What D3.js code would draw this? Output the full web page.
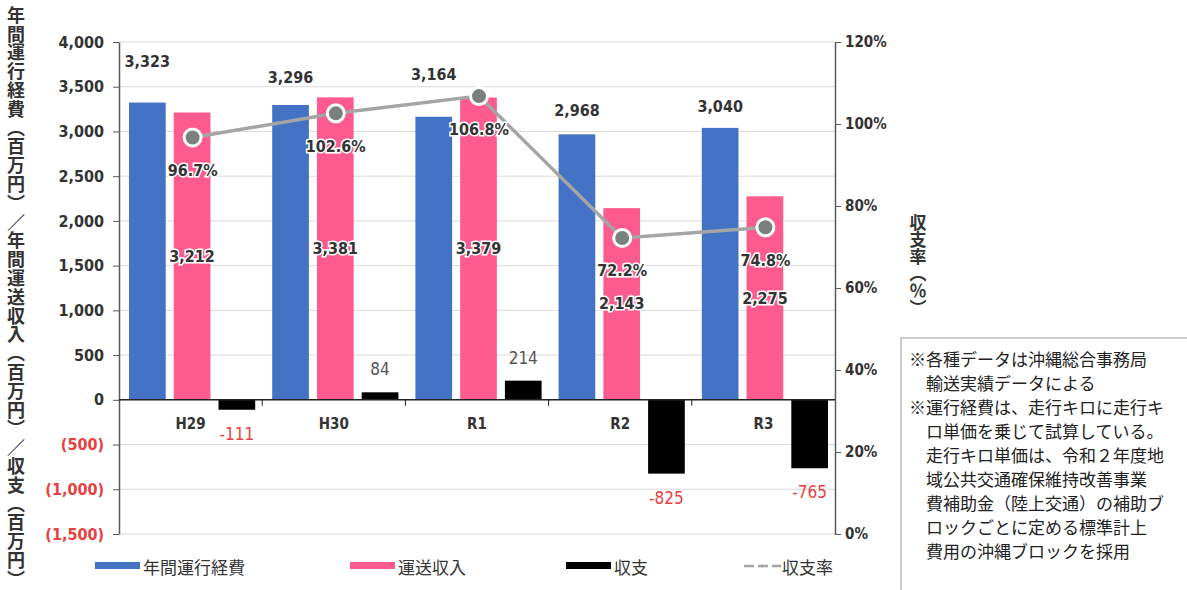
<!DOCTYPE html>
<html>
<head>
<meta charset="utf-8">
<script src="https://cdn.jsdelivr.net/npm/d3@7"></script>
<style>
  body { margin: 0; background: #fff; }
  svg { display: block; }
  .num { font-family: "Liberation Sans Narrow", "DejaVu Sans Condensed", "Roboto", sans-serif; font-weight: bold; }
  .jp { font-family: "Noto Sans CJK JP", "Noto Sans", sans-serif; }
</style>
</head>
<body>
<svg id="chart" width="1187" height="590"></svg>
<script>
const years = ['H29', 'H30', 'R1', 'R2', 'R3'];
const costs = [3323, 3296, 3164, 2968, 3040];      // 年間運行経費
const revenues = [3212, 3381, 3379, 2143, 2275];   // 運送収入
const balances = [-111, 84, 214, -825, -765];      // 収支
const ratios = [96.7, 102.6, 106.8, 72.2, 74.8];   // 収支率 (%)
const leftTicks = [-1500, -1000, -500, 0, 500, 1000, 1500, 2000, 2500, 3000, 3500, 4000];
const rightTicks = [0, 20, 40, 60, 80, 100, 120];
const notes = [
    '※各種データは沖縄総合事務局',
    '　輸送実績データによる',
    '※運行経費は、走行キロに走行キ',
    '　ロ単価を乗じて試算している。',
    '　走行キロ単価は、令和２年度地',
    '　域公共交通確保維持改善事業',
    '　費補助金（陸上交通）の補助ブ',
    '　ロックごとに定める標準計上',
    '　費用の沖縄ブロックを採用'
];

// the cost labels sit at uneven heights in the original (px above bar)
const costLabelLift = [41, 27, 42, 24, 21];

const colors = { cost: '#4472c4', revenue: '#fd5b8e', balance: '#000000', ratio: '#a5a5a5' };

const svg = d3.select('#chart');
const plotLeft = 119, plotRight = 835, plotTop = 42, plotBottom = 534;

const yL = d3.scaleLinear().domain([-1500, 4000]).range([plotBottom, plotTop]);
const yR = d3.scaleLinear().domain([0, 120]).range([plotBottom, plotTop]);
const x0 = d3.scaleBand().domain(years).range([plotLeft, plotRight]);
const x1 = d3.scaleBand().domain(['cost', 'revenue', 'balance'])
    .range([10, x0.bandwidth() - 7]).paddingInner(0.18);

const fmt = d3.format(',');

// gridlines
svg.append('g').selectAll('line')
    .data(leftTicks)
    .enter().append('line')
    .attr('x1', plotLeft).attr('x2', plotRight)
    .attr('y1', d => yL(d)).attr('y2', d => yL(d))
    .attr('stroke', '#d9d9d9').attr('stroke-width', 1);

// left axis
const gL = svg.append('g').attr('transform', `translate(${plotLeft},0)`)
    .call(d3.axisLeft(yL).tickValues(leftTicks).tickSize(6).tickSizeOuter(0)
        .tickFormat(d => d < 0 ? `(${fmt(-d)})` : fmt(d)));
gL.select('.domain').attr('stroke', '#595959').attr('stroke-width', 1.5);
gL.selectAll('.tick line').attr('stroke', '#595959');
gL.selectAll('.tick text')
    .attr('class', 'num')
    .attr('font-size', 16)
    .attr('x', -15)
    .attr('fill', d => d < 0 ? '#e8403f' : '#333');

// right axis
const gR = svg.append('g').attr('transform', `translate(${plotRight},0)`)
    .call(d3.axisRight(yR).tickValues(rightTicks).tickSize(6).tickSizeOuter(0)
        .tickFormat(d => d + '%'));
gR.select('.domain').attr('stroke', '#595959').attr('stroke-width', 1.5);
gR.selectAll('.tick line').attr('stroke', '#595959');
gR.selectAll('.tick text')
    .attr('class', 'num')
    .attr('font-size', 15)
    .attr('x', 10)
    .attr('fill', '#333');

// bars
const groups = svg.append('g').selectAll('g')
    .data(years.map((y, i) => ({ year: y, i })))
    .enter().append('g')
    .attr('transform', d => `translate(${x0(d.year)},0)`);

groups.append('rect')
    .attr('x', x1('cost')).attr('width', x1.bandwidth())
    .attr('y', d => yL(costs[d.i])).attr('height', d => yL(0) - yL(costs[d.i]))
    .attr('fill', colors.cost);

groups.append('rect')
    .attr('x', x1('revenue')).attr('width', x1.bandwidth())
    .attr('y', d => yL(revenues[d.i])).attr('height', d => yL(0) - yL(revenues[d.i]))
    .attr('fill', colors.revenue);

groups.append('rect')
    .attr('x', x1('balance')).attr('width', x1.bandwidth())
    .attr('y', d => yL(Math.max(0, balances[d.i])))
    .attr('height', d => Math.abs(yL(balances[d.i]) - yL(0)))
    .attr('fill', colors.balance);

// zero line + category ticks
svg.append('line')
    .attr('x1', plotLeft).attr('x2', plotRight)
    .attr('y1', yL(0)).attr('y2', yL(0))
    .attr('stroke', '#222').attr('stroke-width', 1.5);
svg.append('g').selectAll('line')
    .data(years.slice(1))
    .enter().append('line')
    .attr('x1', d => x0(d)).attr('x2', d => x0(d))
    .attr('y1', yL(0)).attr('y2', yL(0) + 6)
    .attr('stroke', '#222');

svg.append('g').selectAll('text')
    .data(years)
    .enter().append('text')
    .attr('class', 'num')
    .attr('x', d => x0(d) + x0.bandwidth() / 2)
    .attr('y', yL(0) + 24)
    .attr('text-anchor', 'middle').attr('dominant-baseline', 'central')
    .attr('font-size', 15).attr('fill', '#333')
    .text(d => d);

// value labels
groups.append('text')
    .attr('class', 'num')
    .attr('x', x1('cost') + x1.bandwidth() / 2)
    .attr('y', d => yL(costs[d.i]) - costLabelLift[d.i])
    .attr('text-anchor', 'middle').attr('dominant-baseline', 'central')
    .attr('font-size', 16).attr('fill', '#333')
    .text(d => fmt(costs[d.i]));

groups.append('text')
    .attr('class', 'num')
    .attr('x', x1('revenue') + x1.bandwidth() / 2)
    .attr('y', d => yL(revenues[d.i] / 2))
    .attr('text-anchor', 'middle').attr('dominant-baseline', 'central')
    .attr('font-size', 16).attr('fill', '#333')
    .attr('stroke', '#fff').attr('stroke-width', 3).attr('paint-order', 'stroke')
    .text(d => fmt(revenues[d.i]));

groups.append('text')
    .attr('class', 'num')
    .attr('x', x1('balance') + x1.bandwidth() / 2)
    .attr('y', d => balances[d.i] < 0 ? yL(balances[d.i]) + 24 : yL(balances[d.i]) - 23)
    .attr('text-anchor', 'middle').attr('dominant-baseline', 'central')
    .attr('font-size', 17)
    .style('font-weight', 'normal')
    .attr('fill', d => balances[d.i] < 0 ? '#e8403f' : '#555')
    .text(d => balances[d.i] < 0 ? '-' + Math.abs(balances[d.i]) : balances[d.i]);

// ratio line
const cx = d => x0(d) + x0.bandwidth() / 2 + 2;
const line = d3.line().x((d, i) => cx(years[i])).y(d => yR(d));
svg.append('path')
    .datum(ratios)
    .attr('d', line)
    .attr('fill', 'none').attr('stroke', colors.ratio).attr('stroke-width', 3.5);

svg.append('g').selectAll('circle')
    .data(ratios)
    .enter().append('circle')
    .attr('cx', (d, i) => cx(years[i]))
    .attr('cy', d => yR(d))
    .attr('r', 8.5)
    .attr('fill', '#7a807c').attr('stroke', '#fff').attr('stroke-width', 3);

svg.append('g').selectAll('text')
    .data(ratios)
    .enter().append('text')
    .attr('class', 'num')
    .attr('x', (d, i) => cx(years[i]))
    .attr('y', d => yR(d) + 33)
    .attr('text-anchor', 'middle').attr('dominant-baseline', 'central')
    .attr('font-size', 16).attr('fill', '#333')
    .attr('stroke', '#fff').attr('stroke-width', 3).attr('paint-order', 'stroke')
    .text(d => d.toFixed(1) + '%');

// axis titles (vertical)
svg.append('text')
    .attr('class', 'jp')
    .attr('x', 16).attr('y', 6)
    .style('writing-mode', 'vertical-rl')
    .attr('font-size', 18).attr('font-weight', 'bold').attr('fill', '#333')
    .attr('letter-spacing', 0.8)
    .text('年間運行経費（百万円）／年間運送収入（百万円）／収支（百万円）');

svg.append('text')
    .attr('class', 'jp')
    .attr('x', 918).attr('y', 214)
    .style('writing-mode', 'vertical-rl')
    .attr('font-size', 17).attr('font-weight', 'bold').attr('fill', '#333')
    .text('収支率（％）');

// legend
const legend = [
    { label: '年間運行経費', color: colors.cost, x: 95 },
    { label: '運送収入', color: colors.revenue, x: 350 },
    { label: '収支', color: colors.balance, x: 566 }
];
const lg = svg.append('g');
legend.forEach(d => {
    lg.append('rect').attr('x', d.x).attr('y', 562).attr('width', 45).attr('height', 7).attr('fill', d.color);
    lg.append('text').attr('class', 'jp')
        .attr('x', d.x + 48).attr('y', 566)
        .attr('dominant-baseline', 'central')
        .attr('font-size', 17).attr('fill', '#333')
        .text(d.label);
});
lg.append('line').attr('x1', 744).attr('x2', 781).attr('y1', 566).attr('y2', 566)
    .attr('stroke', colors.ratio).attr('stroke-width', 2.5).attr('stroke-dasharray', '10,4');
lg.append('circle').attr('cx', 762).attr('cy', 566).attr('r', 1.5).attr('fill', colors.ratio);
lg.append('text').attr('class', 'jp')
    .attr('x', 782).attr('y', 566)
    .attr('dominant-baseline', 'central')
    .attr('font-size', 17).attr('fill', '#333')
    .text('収支率');

// note box
svg.append('rect')
    .attr('x', 901).attr('y', 338).attr('width', 300).attr('height', 270)
    .attr('fill', '#fff').attr('stroke', '#bdbdbd').attr('stroke-width', 1.5);
svg.append('g').selectAll('text')
    .data(notes)
    .enter().append('text')
    .attr('class', 'jp')
    .attr('x', 909)
    .attr('y', (d, i) => 358 + i * 24)
    .attr('dominant-baseline', 'central')
    .attr('font-size', 17).attr('fill', '#222')
    .text(d => d);
</script>
</body>
</html>
